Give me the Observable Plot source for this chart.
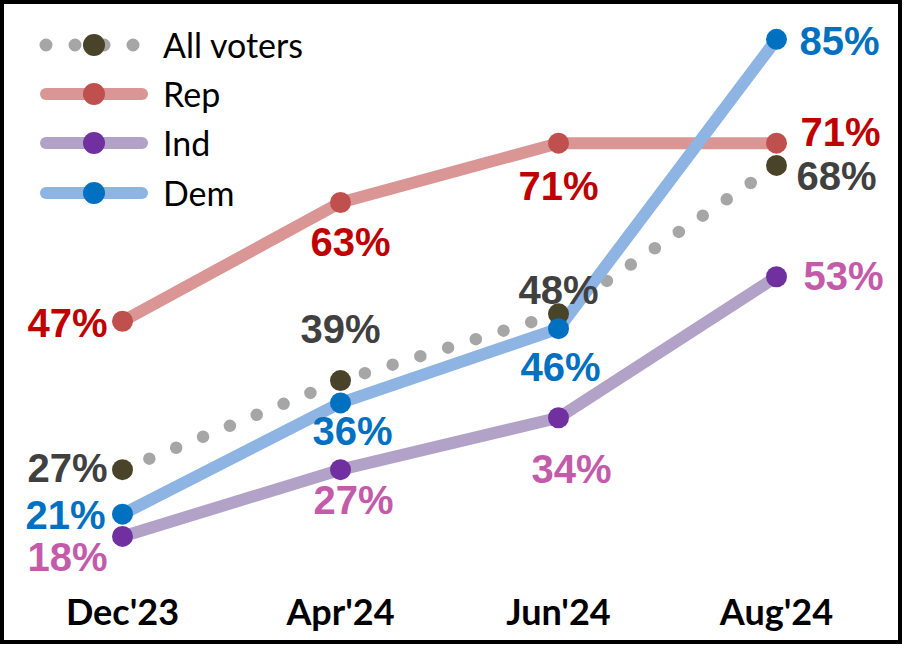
<!DOCTYPE html>
<html>
<head>
<meta charset="utf-8">
<script src="https://cdn.jsdelivr.net/npm/d3@7"></script>
<script src="https://cdn.jsdelivr.net/npm/@observablehq/plot@0.6"></script>
<style>
  html, body { margin: 0; padding: 0; background: #fff; }
  #wrap { position: relative; width: 906px; height: 649px; overflow: hidden; }
  #frame { position: absolute; left: 0; top: 0; width: 902px; height: 644px; box-sizing: border-box; border: 4px solid #000; pointer-events: none; }
  #legend { position: absolute; left: 34px; top: 20px; font-family: Lato, sans-serif; font-size: 34px; color: #000; }
  .row { display: flex; align-items: center; height: 49.3px; }
  .row span { margin-left: 9px; line-height: 1; }
</style>
</head>
<body>
<div id="wrap"><div id="chart"></div><div id="legend"></div><div id="frame"></div></div>
<script>
// ---- data ----
const dates = ["Dec'23", "Apr'24", "Jun'24", "Aug'24"];
const seriesNames = ["All voters", "Rep", "Ind", "Dem"];
const allVoters = [27, 39, 48, 68];
const rep = [47, 63, 71, 71];
const ind = [18, 27, 34, 53];
const dem = [21, 36, 46, 85];

const valuesBySeries = { "All voters": allVoters, "Rep": rep, "Ind": ind, "Dem": dem };
const rows = seriesNames.flatMap(s => valuesBySeries[s].map((v, j) => ({ series: s, date: dates[j], value: v })));

// ---- styles ----
const lineColor = { "All voters": "#A6A6A6", "Rep": "#DA9694", "Ind": "#B3A2C7", "Dem": "#8DB4E2" };
const markerColor = { "All voters": "#494429", "Rep": "#C0504D", "Ind": "#7030A0", "Dem": "#0070C0" };
const labelColor = { "All voters": "#404040", "Rep": "#C00000", "Ind": "#C45BAA", "Dem": "#0070C0" };

const of = s => d => d.series === s;

function label(series, date, dx, dy, textAnchor) {
  return Plot.text(rows, {
    filter: d => d.series === series && d.date === date,
    x: "date", y: "value", text: d => d.value + "%",
    dx, dy, textAnchor,
    fill: labelColor[series],
    fontFamily: "'Liberation Sans', Arial, sans-serif",
    fontWeight: "bold", fontSize: 40
  });
}

const lineOpts = s => ({ filter: of(s), x: "date", y: "value", stroke: lineColor[s], strokeWidth: 12, strokeLinecap: "round", strokeLinejoin: "round" });
const dotOpts = s => ({ filter: of(s), x: "date", y: "value", fill: markerColor[s], r: 10.5 });

const chart = Plot.plot({
  width: 906, height: 649,
  marginBottom: 50,
  x: { type: "point", domain: dates, range: [122, 776], padding: 0, label: null },
  y: { domain: [0, 100], range: [669.5, -72.5], axis: null },
  style: { background: "transparent", color: "#000", overflow: "visible" },
  marks: [
    Plot.line(rows, { filter: of("All voters"), x: "date", y: "value", stroke: lineColor["All voters"], strokeWidth: 12.5, strokeDasharray: "0 29", strokeLinecap: "round" }),
    Plot.line(rows, lineOpts("Ind")),
    Plot.line(rows, lineOpts("Rep")),
    Plot.line(rows, lineOpts("Dem")),
    Plot.dot(rows, dotOpts("All voters")),
    Plot.dot(rows, dotOpts("Rep")),
    Plot.dot(rows, dotOpts("Ind")),
    Plot.dot(rows, dotOpts("Dem")),
    Plot.axisX({ tickSize: 0, tickPadding: 0, fontSize: 36, fontFamily: "Lato, sans-serif", fontWeight: "bold", fill: "#000" }),
    // All voters
    label("All voters", "Dec'23", -15, 0, "end"),
    label("All voters", "Apr'24", 0, -50, "middle"),
    label("All voters", "Jun'24", 0, -23, "middle"),
    label("All voters", "Aug'24", 20, 12, "start"),
    // Rep
    label("Rep", "Dec'23", -15, 3, "end"),
    label("Rep", "Apr'24", 10, 41, "middle"),
    label("Rep", "Jun'24", 0, 44, "middle"),
    label("Rep", "Aug'24", 24, -10, "start"),
    // Ind
    label("Ind", "Dec'23", -15, 22, "end"),
    label("Ind", "Apr'24", 13, 32, "middle"),
    label("Ind", "Jun'24", 13, 52, "middle"),
    label("Ind", "Aug'24", 27, 0, "start"),
    // Dem
    label("Dem", "Dec'23", -17, 2, "end"),
    label("Dem", "Apr'24", 12, 29, "middle"),
    label("Dem", "Jun'24", 2, 40, "middle"),
    label("Dem", "Aug'24", 23, 3, "start")
  ]
});
document.getElementById("chart").appendChild(chart);

// ---- legend (HTML overlay, inside the frame at top-left) ----
const legend = document.getElementById("legend");
const ns = "http://www.w3.org/2000/svg";
seriesNames.forEach(s => {
  const row = document.createElement("div");
  row.className = "row";
  const svg = document.createElementNS(ns, "svg");
  svg.setAttribute("width", 120); svg.setAttribute("height", 30);
  const ln = document.createElementNS(ns, "line");
  ln.setAttribute("y1", 15); ln.setAttribute("y2", 15);
  ln.setAttribute("stroke", lineColor[s]);
  ln.setAttribute("stroke-linecap", "round");
  if (s === "All voters") {
    ln.setAttribute("x1", 12); ln.setAttribute("x2", 100);
    ln.setAttribute("stroke-width", 13);
    ln.setAttribute("stroke-dasharray", "0 29");
  } else {
    ln.setAttribute("x1", 12); ln.setAttribute("x2", 108);
    ln.setAttribute("stroke-width", 12);
  }
  svg.appendChild(ln);
  const c = document.createElementNS(ns, "circle");
  c.setAttribute("cx", 60); c.setAttribute("cy", 15); c.setAttribute("r", 11);
  c.setAttribute("fill", markerColor[s]);
  svg.appendChild(c);
  row.appendChild(svg);
  const t = document.createElement("span");
  t.textContent = s;
  row.appendChild(t);
  legend.appendChild(row);
});
</script>
</body>
</html>
